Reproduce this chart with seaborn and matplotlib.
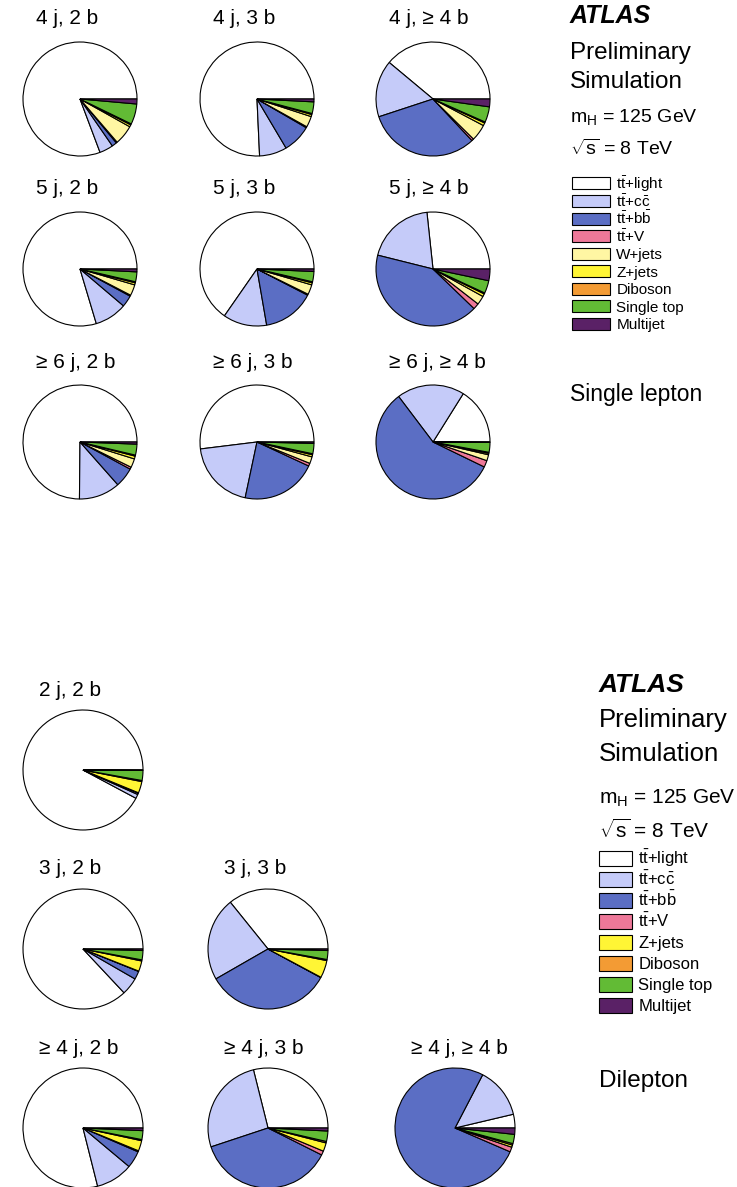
import matplotlib
matplotlib.use("Agg")
import matplotlib.pyplot as plt
import seaborn as sns
from matplotlib.patches import Rectangle
from matplotlib.legend_handler import HandlerPatch

sns.set_theme(style="white")
plt.rcParams['font.family'] = ['Liberation Sans', 'DejaVu Sans']
plt.rcParams['text.color'] = 'black'
plt.rcParams['mathtext.fontset'] = 'custom'
plt.rcParams['mathtext.rm'] = 'Liberation Sans'
plt.rcParams['mathtext.it'] = 'Liberation Sans:italic'
plt.rcParams['mathtext.bf'] = 'Liberation Sans:bold'

W, H = 737, 1187

# samples (single lepton has W+jets, dilepton does not)
sl_labels = [r'$\mathrm{t\bar{t}}$+light', r'$\mathrm{t\bar{t}}$+$\mathrm{c\bar{c}}$',
             r'$\mathrm{t\bar{t}}$+$\mathrm{b\bar{b}}$', r'$\mathrm{t\bar{t}}$+V',
             'W+jets', 'Z+jets', 'Diboson', 'Single top', 'Multijet']
sl_colors = ['#ffffff', '#c5cbf9', '#5b6ec4', '#ee7899', '#fff6a3', '#fff535', '#f39b34', '#62bb35', '#5a2166']
dl_labels = [l for l in sl_labels if l != 'W+jets']
dl_colors = [c for c, l in zip(sl_colors, sl_labels) if l != 'W+jets']

# single lepton fractions (%), order as sl_labels
sl_regions = ['4 j, 2 b', '4 j, 3 b', '4 j, ≥ 4 b',
              '5 j, 2 b', '5 j, 3 b', '5 j, ≥ 4 b',
              '≥ 6 j, 2 b', '≥ 6 j, 3 b', '≥ 6 j, ≥ 4 b']
sl_4j2b = [80.8, 3.9, 1.4, 0.3, 5.6, 0.6, 0.3, 5.8, 1.4]
sl_4j3b = [75.8, 7.8, 8.1, 0.3, 3.1, 0.6, 0.3, 3.3, 0.8]
sl_4j4b = [38.9, 16.1, 31.9, 0.6, 4.7, 0.8, 0.3, 4.4, 2.2]
sl_5j2b = [79.7, 9.2, 3.3, 0.3, 3.1, 0.6, 0.3, 2.8, 0.8]
sl_5j3b = [65.4, 12.4, 14.7, 0.3, 2.8, 0.6, 0.3, 2.9, 0.7]
sl_5j4b = [26.7, 19.4, 41.7, 1.7, 2.5, 0.8, 0.3, 3.6, 3.3]
sl_6j2b = [75.0, 11.7, 5.6, 0.6, 2.5, 0.8, 0.3, 3.1, 0.6]
sl_6j3b = [51.9, 19.7, 21.4, 0.8, 1.9, 0.6, 0.3, 2.9, 0.4]
sl_6j4b = [16.1, 19.2, 57.5, 1.9, 1.7, 0.4, 0.3, 2.8, 0.1]
sl_values = [sl_4j2b, sl_4j3b, sl_4j4b, sl_5j2b, sl_5j3b, sl_5j4b, sl_6j2b, sl_6j3b, sl_6j4b]

# dilepton fractions (%), order as dl_labels
dl_regions = ['2 j, 2 b', None, None,
              '3 j, 2 b', '3 j, 3 b', None,
              '≥ 4 j, 2 b', '≥ 4 j, 3 b', '≥ 4 j, ≥ 4 b']
dl_2j2b = [92.2, 1.1, 0.4, 0.1, 3.1, 0.3, 2.7, 0.1]
dl_3j2b = [86.9, 4.7, 2.2, 0.1, 2.8, 0.3, 2.5, 0.4]
dl_3j3b = [35.8, 22.5, 33.8, 0.1, 4.7, 0.3, 2.4, 0.4]
dl_4j2b = [79.0, 10.0, 4.6, 0.3, 2.8, 0.3, 2.4, 0.7]
dl_4j3b = [28.9, 26.2, 37.5, 1.1, 2.3, 0.4, 2.8, 0.8]
dl_4j4b = [3.7, 13.7, 76.3, 1.3, 0.6, 0.4, 2.5, 1.7]
dl_values = [dl_2j2b, None, None, dl_3j2b, dl_3j3b, None, dl_4j2b, dl_4j3b, dl_4j4b]


def fx(x):
    return x / W


def fy(y):
    return 1 - y / H


def box_handler(frac):
    # legend box smaller than the row, centred on the text
    def make(legend, orig_handle, xdescent, ydescent, width, height, fontsize):
        h = frac * fontsize
        return Rectangle((-xdescent, 0.36 * fontsize - h / 2), width, h)
    return HandlerPatch(patch_func=make)


fig = plt.figure(figsize=(W / 100, H / 100), dpi=100)


def draw_block(regions, values, colors, xs, ys, r, fs):
    handles = None
    for i, (reg, vals) in enumerate(zip(regions, values)):
        if vals is None:
            continue
        cx, cy = xs[i % 3], ys[i // 3]
        m = 1.03
        ax = fig.add_axes([fx(cx - r * m), fy(cy + r * m), 2 * r * m / W, 2 * r * m / H])
        wedges, _ = ax.pie(vals, colors=colors, startangle=0, counterclock=True, radius=1,
                           wedgeprops=dict(edgecolor='black', linewidth=0.8))
        ax.set_xlim(-m, m)
        ax.set_ylim(-m, m)
        ax.set_aspect('auto')
        ax.axis('off')
        fig.text(fx(cx - 44), fy(cy - 80), reg, fontsize=fs, ha='left', va='center')
        if handles is None:
            handles = wedges
    return handles


h_sl = draw_block(sl_regions, sl_values, sl_colors, [80, 257, 433], [99, 269, 442], 57, 15)
h_dl = draw_block(dl_regions, dl_values, dl_colors, [83, 268, 455], [770, 949, 1128], 60, 15)

# single lepton annotations
x0 = 570
fig.text(fx(x0), fy(23), 'ATLAS', fontsize=18, fontweight='bold', fontstyle='italic', va='baseline')
fig.text(fx(x0), fy(59), 'Preliminary', fontsize=17.5, va='baseline')
fig.text(fx(x0), fy(88), 'Simulation', fontsize=17.5, va='baseline')
fig.text(fx(x0), fy(122), r'm$_\mathrm{H}$ = 125 GeV', fontsize=14, va='baseline')
fig.text(fx(x0), fy(155), r'$\sqrt{\mathrm{s}}$ = 8 TeV', fontsize=14, va='baseline')
fig.text(fx(x0), fy(401), 'Single lepton', fontsize=16.5, va='baseline')
fig.legend(h_sl, sl_labels, loc='upper left', bbox_to_anchor=(fx(572), fy(174)),
           frameon=False, fontsize=11, handlelength=2.5, handleheight=1.6,
           handletextpad=0.4, labelspacing=-0.14, borderpad=0, borderaxespad=0,
           handler_map={w: box_handler(0.78) for w in h_sl})

# dilepton annotations
x1 = 599
fig.text(fx(x1), fy(692), 'ATLAS', fontsize=19, fontweight='bold', fontstyle='italic', va='baseline')
fig.text(fx(x1), fy(727), 'Preliminary', fontsize=18.5, va='baseline')
fig.text(fx(x1), fy(761), 'Simulation', fontsize=18.5, va='baseline')
fig.text(fx(x1), fy(804), r'm$_\mathrm{H}$ = 125 GeV', fontsize=15, va='baseline')
fig.text(fx(x1), fy(838), r'$\sqrt{\mathrm{s}}$ = 8 TeV', fontsize=15, va='baseline')
fig.text(fx(x1), fy(1087), 'Dilepton', fontsize=17.5, va='baseline')
fig.legend(h_dl, dl_labels, loc='upper left', bbox_to_anchor=(fx(599), fy(848)),
           frameon=False, fontsize=12, handlelength=2.0, handleheight=1.6,
           handletextpad=0.35, labelspacing=-0.025, borderpad=0, borderaxespad=0,
           handler_map={w: box_handler(0.88) for w in h_dl})

fig.savefig('out.png', dpi=100, facecolor='white')
